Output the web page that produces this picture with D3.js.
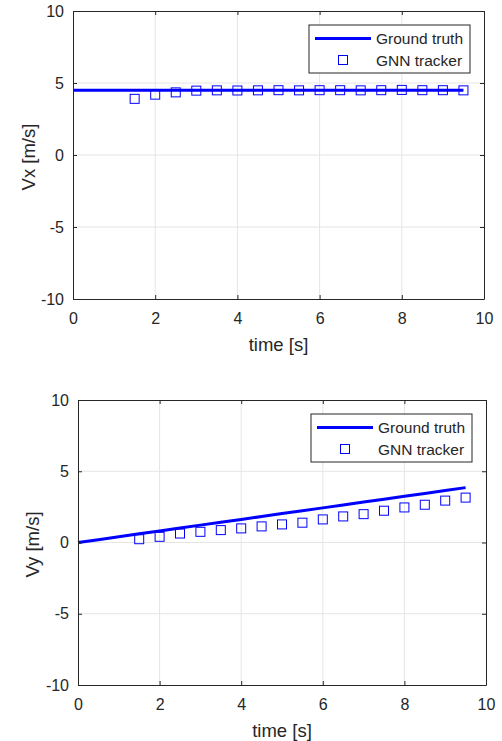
<!DOCTYPE html>
<html>
<head>
<meta charset="utf-8">
<script src="https://cdn.jsdelivr.net/npm/d3@7"></script>
<style>
  html, body { margin: 0; padding: 0; background: #fff; }
  svg { display: block; font-family: Arial, "Liberation Sans", Helvetica, sans-serif; }
</style>
</head>
<body>
<svg id="chart" width="502" height="741"></svg>
<script>
// ---- data ----
const truthTime = [0, 0.5, 1, 1.5, 2, 2.5, 3, 3.5, 4, 4.5, 5, 5.5, 6, 6.5, 7, 7.5, 8, 8.5, 9, 9.5];
const truthVx   = [4.5, 4.5, 4.5, 4.5, 4.5, 4.5, 4.5, 4.5, 4.5, 4.5, 4.5, 4.5, 4.5, 4.5, 4.5, 4.5, 4.5, 4.5, 4.5, 4.5];
const truthVy   = [0, 0.20, 0.41, 0.61, 0.81, 1.01, 1.22, 1.42, 1.62, 1.82, 2.03, 2.23, 2.43, 2.63, 2.84, 3.04, 3.24, 3.44, 3.65, 3.85];
const trackTime = [1.5, 2, 2.5, 3, 3.5, 4, 4.5, 5, 5.5, 6, 6.5, 7, 7.5, 8, 8.5, 9, 9.5];
const trackVx   = [3.9, 4.19, 4.35, 4.47, 4.49, 4.48, 4.49, 4.5, 4.49, 4.5, 4.5, 4.49, 4.5, 4.52, 4.5, 4.5, 4.49];
const trackVy   = [0.23, 0.40, 0.63, 0.75, 0.87, 0.99, 1.13, 1.27, 1.39, 1.62, 1.83, 1.99, 2.23, 2.46, 2.65, 2.94, 3.15];
const xTicks = [0, 2, 4, 6, 8, 10];
const yTicks = [-10, -5, 0, 5, 10];
const legendLabels = ["Ground truth", "GNN tracker"];
const xLabel = "time [s]";
const yLabels = ["Vx [m/s]", "Vy [m/s]"];

const svg = d3.select("#chart");
const axisColor = "#262626";
const gridColor = "#e5e5e5";
const blue = "#0000ff";
const fmt = d => String(d);

function panel(box, gt, tr, yLabel, yLabelX) {
  const x = d3.scaleLinear().domain([0, 10]).range([box.left, box.right]);
  const y = d3.scaleLinear().domain([-10, 10]).range([box.bottom, box.top]);
  const g = svg.append("g");

  g.append("rect").attr("x", box.left).attr("y", box.top)
    .attr("width", box.right - box.left).attr("height", box.bottom - box.top)
    .attr("fill", "#fff");

  // grid
  g.append("g").selectAll("line").data(xTicks.slice(1, -1)).join("line")
    .attr("x1", d => x(d)).attr("x2", d => x(d))
    .attr("y1", box.top).attr("y2", box.bottom)
    .attr("stroke", gridColor).attr("stroke-width", 1);
  g.append("g").selectAll("line").data(yTicks.slice(1, -1)).join("line")
    .attr("y1", d => y(d)).attr("y2", d => y(d))
    .attr("x1", box.left).attr("x2", box.right)
    .attr("stroke", gridColor).attr("stroke-width", 1);

  const tickLen = 4;
  const xAxisB = d3.axisBottom(x).tickValues(xTicks).tickSizeInner(-tickLen).tickSizeOuter(0).tickPadding(14).tickFormat(fmt);
  const xAxisT = d3.axisTop(x).tickValues(xTicks).tickSizeInner(-tickLen).tickSizeOuter(0).tickFormat("");
  const yAxisL = d3.axisLeft(y).tickValues(yTicks).tickSizeInner(-tickLen).tickSizeOuter(0).tickPadding(9).tickFormat(fmt);
  const yAxisR = d3.axisRight(y).tickValues(yTicks).tickSizeInner(-tickLen).tickSizeOuter(0).tickFormat("");

  const styleAxis = sel => {
    sel.select(".domain").attr("stroke", axisColor).attr("stroke-width", 1);
    sel.selectAll(".tick line").attr("stroke", axisColor);
    sel.selectAll(".tick text").attr("fill", axisColor).attr("font-size", 16)
      .attr("font-family", "Arial, 'Liberation Sans', Helvetica, sans-serif");
  };

  // ground truth line
  const line = d3.line().x(d => x(d[0])).y(d => y(d[1]));
  g.append("path").datum(truthTime.map((t, i) => [t, gt[i]]))
    .attr("d", line).attr("fill", "none").attr("stroke", blue).attr("stroke-width", 3);

  // tracker markers
  const ms = 9;
  g.append("g").selectAll("rect").data(trackTime.map((t, i) => [t, tr[i]])).join("rect")
    .attr("x", d => x(d[0]) - ms / 2).attr("y", d => y(d[1]) - ms / 2)
    .attr("width", ms).attr("height", ms)
    .attr("fill", "none").attr("stroke", blue).attr("stroke-width", 1);

  g.append("g").attr("transform", `translate(0,${box.bottom})`).call(xAxisB).call(styleAxis);
  g.append("g").attr("transform", `translate(0,${box.top})`).call(xAxisT).call(styleAxis);
  g.append("g").attr("transform", `translate(${box.left},0)`).call(yAxisL).call(styleAxis);
  g.append("g").attr("transform", `translate(${box.right},0)`).call(yAxisR).call(styleAxis);

  // axis labels
  g.append("text").attr("x", (box.left + box.right) / 2).attr("y", box.bottom + 52)
    .attr("text-anchor", "middle").attr("font-size", 18.5).attr("fill", axisColor).text(xLabel);
  g.append("text").attr("transform", `translate(${yLabelX},${(box.top + box.bottom) / 2 + 2}) rotate(-90)`)
    .attr("text-anchor", "middle").attr("dy", "0.35em").attr("font-size", 18.5).attr("fill", axisColor).text(yLabel);

  // legend
  const lw = 161, lh = 48;
  const lx = box.right - 14 - lw, ly = box.top + 14;
  const lg = g.append("g");
  lg.append("rect").attr("x", lx).attr("y", ly).attr("width", lw).attr("height", lh)
    .attr("fill", "#fff").attr("stroke", axisColor).attr("stroke-width", 1);
  lg.append("line").attr("x1", lx + 6).attr("x2", lx + 62).attr("y1", ly + 13.5).attr("y2", ly + 13.5)
    .attr("stroke", blue).attr("stroke-width", 3);
  lg.append("rect").attr("x", lx + 34 - ms / 2).attr("y", ly + 35 - ms / 2).attr("width", ms).attr("height", ms)
    .attr("fill", "none").attr("stroke", blue).attr("stroke-width", 1);
  lg.selectAll("text").data(legendLabels).join("text")
    .attr("x", lx + 67).attr("y", (d, i) => ly + 13.5 + i * 21.5).attr("dy", "0.36em")
    .attr("font-size", 15.5).attr("fill", axisColor).text(d => d);
}

panel({left: 73, right: 484, top: 11, bottom: 299}, truthVx, trackVx, yLabels[0], 29);
panel({left: 78, right: 486, top: 400, bottom: 685}, truthVy, trackVy, yLabels[1], 33);
</script>
</body>
</html>
